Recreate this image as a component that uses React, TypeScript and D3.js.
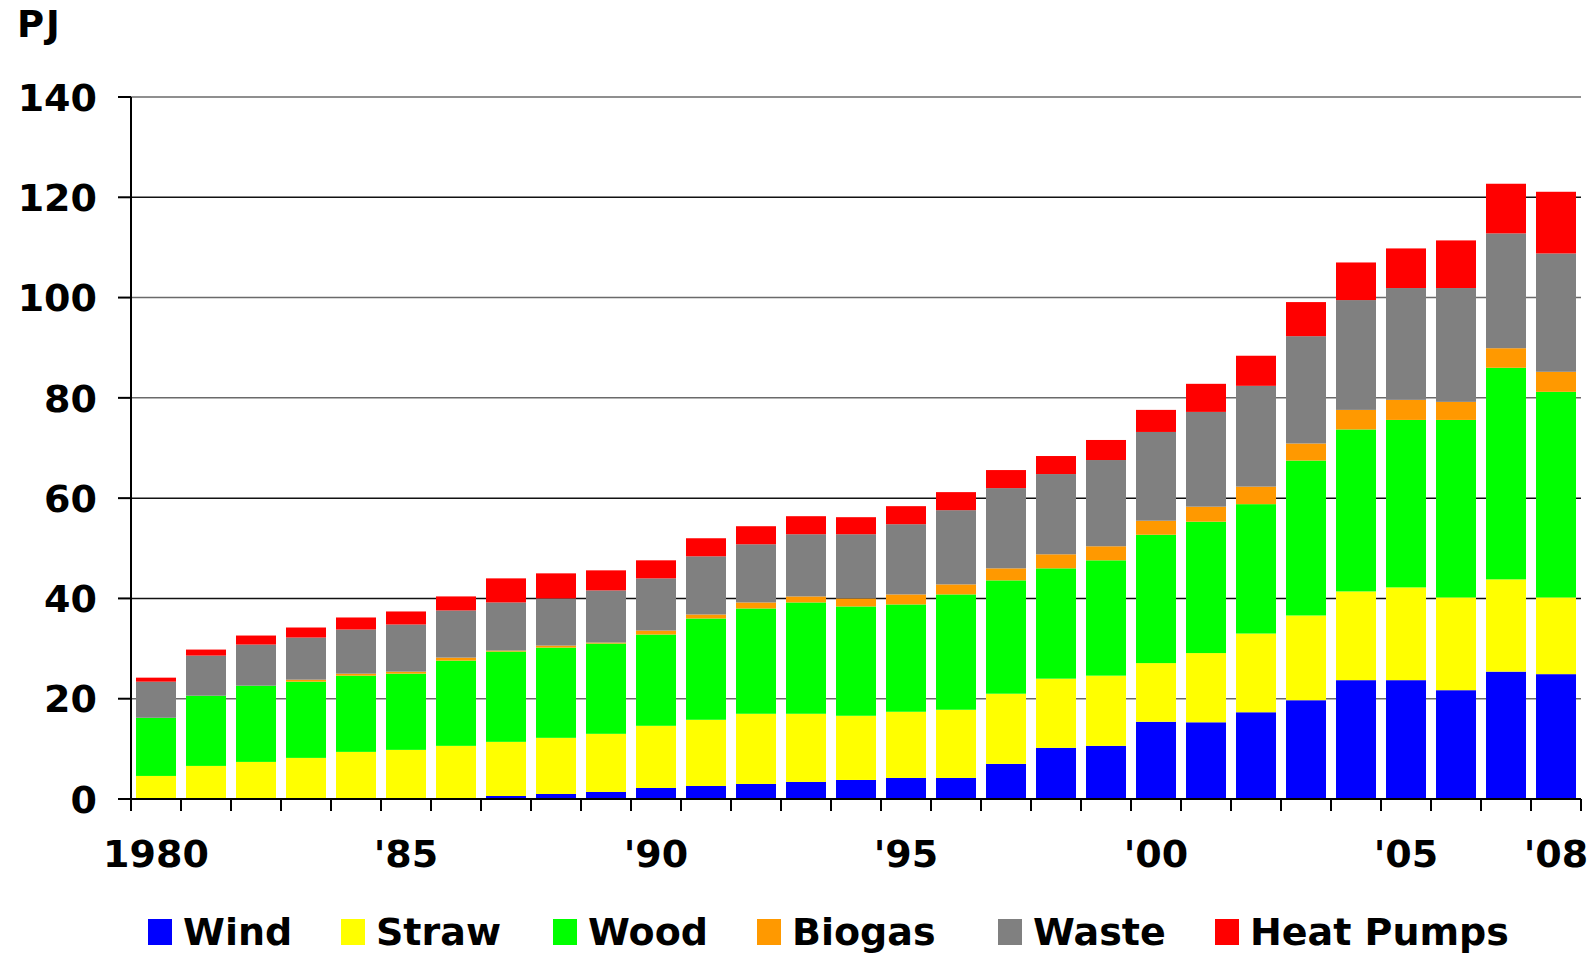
import React from 'react';
import * as d3 from 'd3';

// values in PJ
const years = d3.range(1980, 2009).map(String);
const wind = [0, 0, 0, 0, 0, 0.2, 0.2, 0.6, 1.0, 1.4, 2.2, 2.6, 3.0, 3.4, 3.8, 4.2, 4.2, 7.0, 10.2, 10.6, 15.4, 15.3, 17.3, 19.7, 23.7, 23.7, 21.7, 25.4, 24.9];
const straw = [4.6, 6.6, 7.4, 8.2, 9.4, 9.6, 10.4, 10.8, 11.2, 11.6, 12.4, 13.2, 14.0, 13.6, 12.8, 13.2, 13.6, 14.0, 13.8, 14.0, 11.7, 13.8, 15.7, 16.9, 17.7, 18.5, 18.5, 18.4, 15.3];
const wood = [11.6, 14.0, 15.2, 15.2, 15.2, 15.2, 17.0, 18.0, 18.0, 18.0, 18.2, 20.2, 21.0, 22.2, 21.8, 21.4, 23.0, 22.6, 22.0, 23.0, 25.6, 26.2, 25.8, 30.9, 32.3, 33.4, 35.4, 42.2, 41.0];
const biogas = [0, 0, 0, 0.4, 0.4, 0.4, 0.6, 0.2, 0.4, 0.2, 0.8, 0.8, 1.2, 1.2, 1.6, 2.0, 2.0, 2.4, 2.8, 2.8, 2.8, 3.0, 3.5, 3.4, 3.9, 4.0, 3.6, 3.9, 4.0];
const waste = [7.2, 8.0, 8.2, 8.4, 8.8, 9.4, 9.4, 9.6, 9.4, 10.4, 10.4, 11.6, 11.6, 12.4, 12.8, 14.0, 14.8, 16.0, 16.0, 17.2, 17.7, 18.9, 20.1, 21.4, 21.9, 22.3, 22.7, 22.9, 23.6];
const heatPumps = [0.8, 1.2, 1.8, 2.0, 2.4, 2.6, 2.8, 4.8, 5.0, 4.0, 3.6, 3.6, 3.6, 3.6, 3.4, 3.6, 3.6, 3.6, 3.6, 4.0, 4.4, 5.6, 6.0, 6.8, 7.5, 7.9, 9.5, 9.9, 12.3];

const seriesNames = ['Wind', 'Straw', 'Wood', 'Biogas', 'Waste', 'Heat Pumps'];
const seriesColors = ['#0000ff', '#ffff00', '#00ff00', '#ff9900', '#808080', '#ff0000'];
const yTicks = [0, 20, 40, 60, 80, 100, 120, 140];
const xLabels: Record<string, string> = {
  '1980': '1980', '1985': "'85", '1990': "'90", '1995': "'95", '2000': "'00", '2005': "'05", '2008': "'08",
};

const W = 1596;
const H = 955;
const font = '"DejaVu Sans", Verdana, sans-serif';

export default function App() {
  const left = 131;
  const right = 1581;
  const top = 97;
  const bottom = 799;

  const rows = years.map((y, i) => ({
    year: y,
    Wind: wind[i],
    Straw: straw[i],
    Wood: wood[i],
    Biogas: biogas[i],
    Waste: waste[i],
    'Heat Pumps': heatPumps[i],
  }));

  const stacked = d3.stack<any>().keys(seriesNames)(rows);

  const x = d3.scaleBand().domain(years).range([left, right]).paddingInner(0.2).paddingOuter(0.1);
  const y = d3.scaleLinear().domain([0, 140]).range([bottom, top]);
  const step = x.step();
  const boundaries = d3.range(years.length + 1).map(i => left + i * step);

  const legendX = [148, 341, 553, 757, 998, 1215];

  return (
    <svg width={W} height={H} style={{ position: 'absolute', left: 0, top: 0, display: 'block' }} fontFamily={font}>
      <rect width={W} height={H} fill="#fff" />
      <text x={17} y={37} fontSize={37} fontWeight="bold" letterSpacing={2}>PJ</text>

      {yTicks.map((t, i) => (
        <g key={t}>
          {t > 0 && (
            <line x1={left} x2={right} y1={y(t)} y2={y(t)} stroke={i % 3 === 1 || i === 5 ? '#6a6a6a' : '#111'} strokeWidth={1.5} />
          )}
          <line x1={left - 13} x2={left} y1={y(t)} y2={y(t)} stroke="#000" strokeWidth={2} />
          <text x={97} y={y(t)} dy="0.36em" textAnchor="end" fontSize={38} fontWeight="bold">{t}</text>
        </g>
      ))}

      {stacked.map((s, si) => (
        <g key={s.key} fill={seriesColors[si]}>
          {s.map((d: any) => (
            d[1] - d[0] > 0 ? (
              <rect key={d.data.year} x={x(d.data.year)} width={x.bandwidth()} y={y(d[1])} height={y(d[0]) - y(d[1])} />
            ) : null
          ))}
        </g>
      ))}

      <line x1={left} x2={left} y1={top} y2={bottom} stroke="#000" strokeWidth={2} />
      <line x1={left - 13} x2={right} y1={bottom} y2={bottom} stroke="#000" strokeWidth={2} />
      {boundaries.map((bx, i) => (
        <line key={i} x1={bx} x2={bx} y1={bottom} y2={bottom + 12} stroke="#000" strokeWidth={2} />
      ))}
      {years.filter(yr => xLabels[yr]).map(yr => (
        <text key={yr} x={(x(yr) as number) + x.bandwidth() / 2} y={867} textAnchor="middle" fontSize={38} fontWeight="bold">
          {xLabels[yr]}
        </text>
      ))}

      {seriesNames.map((n, i) => (
        <g key={n}>
          <rect x={legendX[i]} y={919} width={24} height={26} fill={seriesColors[i]} />
          <text x={legendX[i] + 35} y={945} fontSize={38} fontWeight="bold">{n}</text>
        </g>
      ))}
    </svg>
  );
}
